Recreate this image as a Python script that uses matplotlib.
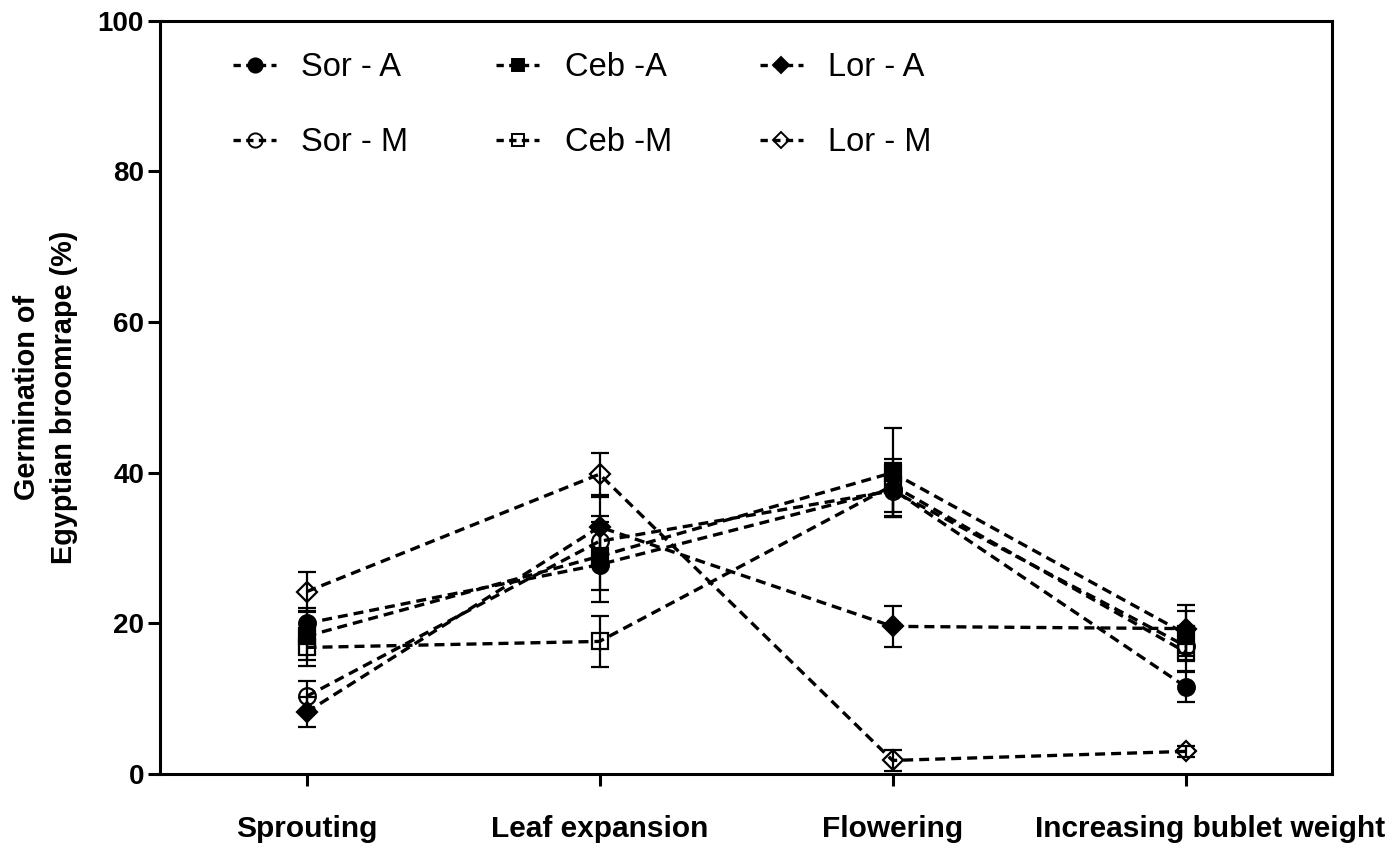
import matplotlib
matplotlib.use("Agg")
import matplotlib.pyplot as plt
import matplotlib.transforms as mtransforms
from matplotlib.lines import Line2D
import numpy as np

categories = ["Sprouting", "Leaf expansion", "Flowering", "Increasing bublet weight"]
series_names = ["Sor - A", "Ceb -A", "Lor - A", "Sor - M", "Ceb -M", "Lor - M"]

sor_a = [20.0, 27.8, 37.8, 11.6]
ceb_a = [18.3, 28.9, 40.0, 18.6]
lor_a = [8.2, 32.8, 19.6, 19.3]
sor_m = [10.3, 30.9, 37.6, 17.0]
ceb_m = [16.8, 17.6, 38.3, 16.2]
lor_m = [24.2, 39.8, 1.8, 3.0]

sor_a_err = [2.0, 5.0, 3.5, 2.0]
ceb_a_err = [3.2, 4.5, 5.9, 3.0]
lor_a_err = [2.0, 4.0, 2.7, 3.2]
sor_m_err = [2.0, 3.3, 3.5, 2.0]
ceb_m_err = [2.5, 3.4, 3.5, 2.5]
lor_m_err = [2.6, 2.8, 1.4, 0.7]

yticks = [0, 20, 40, 60, 80, 100]

means = [sor_a, ceb_a, lor_a, sor_m, ceb_m, lor_m]
errs = [sor_a_err, ceb_a_err, lor_a_err, sor_m_err, ceb_m_err, lor_m_err]
markers = ["o", "s", "D", "o", "s", "D"]
filled = [True, True, True, False, False, False]
msizes = [12, 11, 10, 12, 11, 10]

plt.rcParams['font.family'] = ['Liberation Sans', 'DejaVu Sans']

fig = plt.figure(figsize=(13.96, 8.43), dpi=100)
ax = fig.add_axes([160/1396, 1-774/843, (1332-160)/1396, (774-20.7)/843])

x = np.arange(len(categories))
dash = (0, (3, 1.8))
handles = []
for m, e, mk, f, ms, name in zip(means, errs, markers, filled, msizes, series_names):
    ax.errorbar(x, m, yerr=e, fmt='none', ecolor='black', elinewidth=1.6,
                capsize=6.5, capthick=1.6, zorder=2)
    ax.plot(x, m, color='black', linestyle=dash, linewidth=2.4, zorder=3)
    ax.plot(x, m, linestyle='none', marker=mk, markersize=ms,
            markerfacecolor='black' if f else 'none',
            markeredgecolor='black', markeredgewidth=1.6, zorder=4)
    handles.append(Line2D([0], [0], color='black', linestyle=(0, (2.2, 1.6)), linewidth=2.4,
                          marker=mk, markersize=ms * 0.85,
                          markerfacecolor='black' if f else 'none',
                          markeredgecolor='black', markeredgewidth=1.4, label=name))

ax.set_xlim(-0.5, 3.5)
ax.set_ylim(0, 100)
ax.set_yticks(yticks)
ax.set_yticklabels([str(t) for t in yticks], fontsize=20, fontweight='bold')
ax.set_xticks(x)
ax.set_xticklabels(categories, fontsize=21.5, fontweight='bold')
ax.tick_params(axis='both', direction='out', length=8.5, width=2.2, pad=3)
ax.tick_params(axis='x', pad=21)
for s in ax.spines.values():
    s.set_linewidth(2.2)

# last category label sits slightly right of its tick in the reference
lbl = ax.get_xticklabels()[-1]
lbl.set_transform(lbl.get_transform() + mtransforms.ScaledTranslation(0.25, 0, fig.dpi_scale_trans))

ax.set_ylabel("Germination of\nEgyptian broomrape (%)", fontsize=20.8,
              fontweight='bold', labelpad=14, linespacing=1.4)

order = [0, 3, 1, 4, 2, 5]
leg = fig.legend([handles[i] for i in order], [series_names[i] for i in order],
                 ncol=3, loc='upper left', bbox_to_anchor=(233/1396, 1-52/843),
                 frameon=False, fontsize=23.5, handlelength=1.32, handletextpad=0.77,
                 columnspacing=2.7, labelspacing=1.35, borderpad=0, borderaxespad=0)

fig.savefig("out.png", dpi=100, facecolor='white')
